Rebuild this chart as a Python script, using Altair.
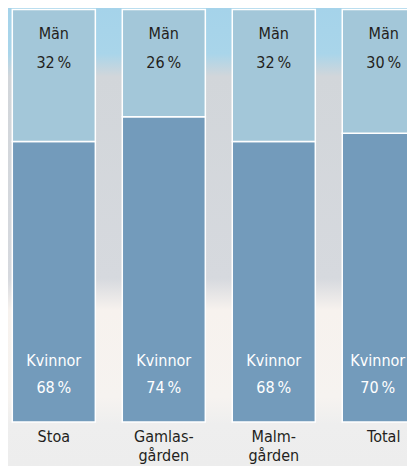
import altair as alt
import pandas as pd

# --- data ---
categories = ["Stoa", "Gamlasgården", "Malmgården", "Total"]
cat_labels = ["Stoa", "Gamlas-\ngården", "Malm-\ngården", "Total"]
man_pct = [32, 26, 32, 30]
kvinnor_pct = [68, 74, 68, 70]

rows = []
for c, m, k in zip(categories, man_pct, kvinnor_pct):
    rows.append({"cat": c, "gender": "Kvinnor", "value": k, "ord": 0})
    rows.append({"cat": c, "gender": "Män", "value": m, "ord": 1})
df = pd.DataFrame(rows)
df_lab = pd.DataFrame({"cat": categories, "lab": cat_labels})

FONT = "DejaVu Sans Condensed, Liberation Sans Narrow, sans-serif"
FS = 16
W, H = 399, 458

xscale = alt.Scale(domain=categories, range=[4.3, 417.3], paddingInner=0.245, paddingOuter=0)
yscale = alt.Scale(domain=[0, 100], range=[414, 1.5])

bg_grad = alt.LinearGradient(
    gradient="linear", x1=0, y1=0, x2=0, y2=1,
    stops=[
        alt.GradientStop(color="#a5d3ea", offset=0),
        alt.GradientStop(color="#a9d5ea", offset=0.10),
        alt.GradientStop(color="#d2d6da", offset=0.15),
        alt.GradientStop(color="#d6d9de", offset=0.59),
        alt.GradientStop(color="#f7f2ee", offset=0.66),
        alt.GradientStop(color="#f6f3f0", offset=0.85),
        alt.GradientStop(color="#eeeeee", offset=0.91),
        alt.GradientStop(color="#ededed", offset=1),
    ],
)

background = alt.Chart(pd.DataFrame({"a": [0]})).mark_rect(color=bg_grad).encode(
    x=alt.value(0), x2=alt.value(W), y=alt.value(0), y2=alt.value(H)
)

base = alt.Chart(df)
Xc = alt.X("cat:N", scale=xscale, axis=None, sort=categories, bandPosition=0.5)

bars = base.mark_bar(stroke="white", strokeWidth=1.5, clip=True).encode(
    x=alt.X("cat:N", scale=xscale, axis=None, sort=categories),
    y=alt.Y("value:Q", stack="zero", scale=yscale, axis=None),
    color=alt.Color("gender:N",
                    scale=alt.Scale(domain=["Kvinnor", "Män"], range=["#739bbb", "#a3c7d9"]),
                    legend=None),
    order=alt.Order("ord:Q"),
)

lab_expr = "datum.gender + '\\n' + datum.value + '\u2009%'"
edge_dx = alt.expr("datum.cat == 'Total' ? -6 : 0")

man_text = base.transform_filter("datum.gender == 'Män'").transform_calculate(
    t=lab_expr, top="100"
).mark_text(font=FONT, fontSize=FS, color="#231f20", baseline="middle",
            lineBreak="\n", lineHeight=29, dy=24).encode(
    x=Xc,
    y=alt.Y("top:Q", scale=yscale, axis=None),
    text="t:N",
)

kv_text = base.transform_filter("datum.gender == 'Kvinnor'").transform_calculate(
    t=lab_expr, bot="0"
).mark_text(font=FONT, fontSize=FS, color="white", baseline="middle",
            lineBreak="\n", lineHeight=27, dy=-61.5, dx=edge_dx).encode(
    x=Xc,
    y=alt.Y("bot:Q", scale=yscale, axis=None),
    text="t:N",
)

cat_text = alt.Chart(df_lab).transform_calculate(bot="0").mark_text(
    font=FONT, fontSize=FS, color="#231f20", baseline="middle",
    lineBreak="\n", lineHeight=19, dy=14.5
).encode(
    x=Xc,
    y=alt.Y("bot:Q", scale=yscale, axis=None),
    text="lab:N",
)

chart = alt.layer(background, bars, man_text, kv_text, cat_text).properties(
    width=W, height=H, padding=0, autosize=alt.AutoSizeParams(type="none"),
    background="#dfe3e7",
).configure_view(stroke=None)

chart.save("out.html", embed_options={"renderer": "svg", "actions": False})
